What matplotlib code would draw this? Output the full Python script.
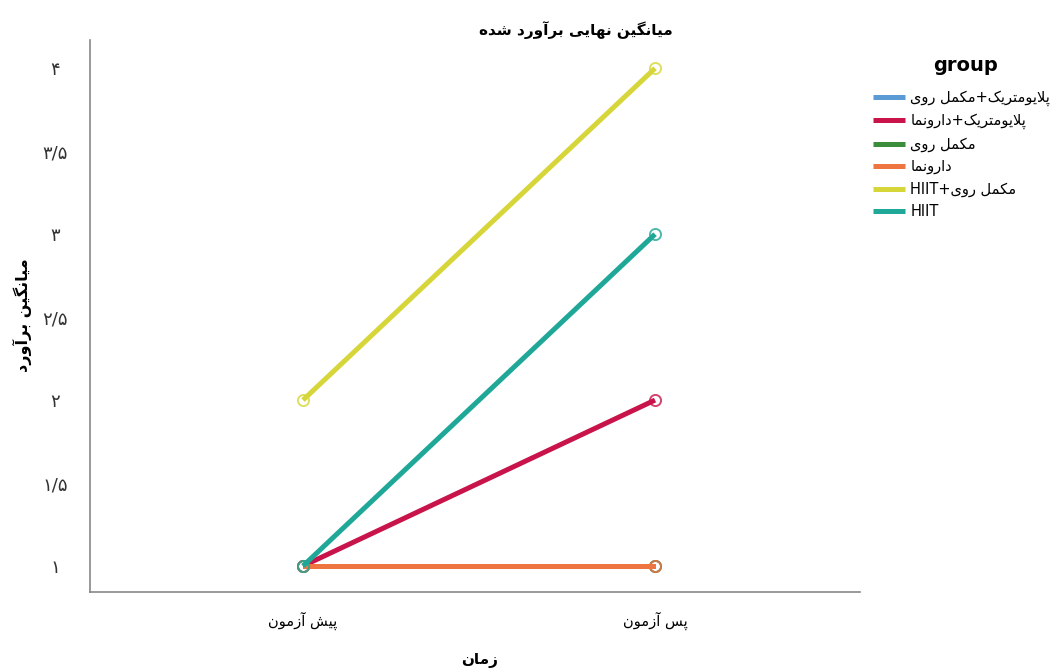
import re
import matplotlib
matplotlib.use("Agg")
import matplotlib.pyplot as plt

# -----------------------------
# Data (estimated marginal means)
# -----------------------------
groups = ["پلایومتریک+مکمل روی", "پلایومتریک+دارونما", "مکمل روی",
          "دارونما", "مکمل روی+HIIT", "HIIT"]
colors = ["#5b9bd5", "#c8144a", "#3b8c3b", "#ee7440", "#d6d63a", "#1fa898"]
times = ["پیش آزمون", "پس آزمون"]
pre = [1, 1, 1, 1, 2, 1]
post = [1, 2, 1, 1, 4, 3]
ytick_vals = [1, 1.5, 2, 2.5, 3, 3.5, 4]
ytick_labels = ["۱", "۱/۵", "۲", "۲/۵", "۳", "۳/۵", "۴"]

# -----------------------------
# Minimal Persian shaping (isolated, final, initial, medial)
# -----------------------------
FORMS = {
    'ا': ('\uFE8D', '\uFE8E', None, None),
    'آ': ('\uFE81', '\uFE82', None, None),
    'ب': ('\uFE8F', '\uFE90', '\uFE91', '\uFE92'),
    'ت': ('\uFE95', '\uFE96', '\uFE97', '\uFE98'),
    'د': ('\uFEA9', '\uFEAA', None, None),
    'ر': ('\uFEAD', '\uFEAE', None, None),
    'ز': ('\uFEAF', '\uFEB0', None, None),
    'س': ('\uFEB1', '\uFEB2', '\uFEB3', '\uFEB4'),
    'ش': ('\uFEB5', '\uFEB6', '\uFEB7', '\uFEB8'),
    'ل': ('\uFEDD', '\uFEDE', '\uFEDF', '\uFEE0'),
    'م': ('\uFEE1', '\uFEE2', '\uFEE3', '\uFEE4'),
    'ن': ('\uFEE5', '\uFEE6', '\uFEE7', '\uFEE8'),
    'ه': ('\uFEE9', '\uFEEA', '\uFEEB', '\uFEEC'),
    'و': ('\uFEED', '\uFEEE', None, None),
    'پ': ('\uFB56', '\uFB57', '\uFB58', '\uFB59'),
    'ک': ('\uFB8E', '\uFB8F', '\uFB90', '\uFB91'),
    'گ': ('\uFB92', '\uFB93', '\uFB94', '\uFB95'),
    'ی': ('\uFBFC', '\uFBFD', '\uFBFE', '\uFBFF'),
}


def shape(text):
    out = []
    i = 0
    while i < len(text):
        c = text[i]
        prev = text[i - 1] if i > 0 else None
        nxt = text[i + 1] if i + 1 < len(text) else None
        join_prev = prev in FORMS and FORMS[prev][2] is not None and c in FORMS
        if c == 'ل' and nxt == 'ا':
            out.append('\uFEFC' if join_prev else '\uFEFB')
            i += 2
            continue
        if c in FORMS:
            f = FORMS[c]
            join_next = f[2] is not None and nxt in FORMS
            if join_prev and join_next:
                out.append(f[3])
            elif join_prev:
                out.append(f[1])
            elif join_next:
                out.append(f[2])
            else:
                out.append(f[0])
        else:
            out.append(c)
        i += 1
    return ''.join(out)


def fa(text):
    # shape, lay out right-to-left, keep latin runs left-to-right
    vis = shape(text)[::-1]
    return re.sub(r'[A-Za-z0-9]+', lambda m: m.group(0)[::-1], vis)


plt.rcParams['font.family'] = ['DejaVu Sans']

fig = plt.figure(figsize=(10.59, 6.71), dpi=100)
ax = fig.add_axes([0.085, 0.1177, 0.727, 0.8223])

x = [0, 1]
for g, c, a, b in zip(groups, colors, pre, post):
    ax.plot(x, [a, b], color=c, lw=3.6, solid_capstyle='butt', label=fa(g))
    ax.plot(x, [a, b], 'o', color=c, ms=8, mfc='none', mew=1.4, alpha=0.8)

ax.set_xlim(-0.605, 1.582)
ax.set_ylim(0.843, 4.169)

ax.set_xticks(x)
ax.set_xticklabels([fa(t) for t in times], fontsize=10.5)
ax.set_yticks(ytick_vals)
ax.set_yticklabels(ytick_labels, fontsize=13, color='#333333', ha='center')
ax.tick_params(axis='x', length=0, pad=14)
ax.tick_params(axis='y', length=0, pad=25)

for side in ['top', 'right']:
    ax.spines[side].set_visible(False)
for side in ['left', 'bottom']:
    ax.spines[side].set_color('#888888')
    ax.spines[side].set_linewidth(1.2)

fig.text(0.544, 0.955, fa("میانگین نهایی برآورد شده"), ha='center', va='center',
         fontsize=11, fontweight='bold')
fig.text(0.021, 0.53, fa("میانگین برآورد"), ha='center', va='center',
         rotation=90, fontsize=11.5, fontweight='bold')
fig.text(0.453, 0.016, fa("زمان"), ha='center', va='center',
         fontsize=11, fontweight='bold')

# legend title drawn on its own so the gap above the entries matches
fig.text(0.912, 0.902, 'group', ha='center', va='center',
         fontsize=14, fontweight='bold')
leg = fig.legend(loc='upper left', bbox_to_anchor=(0.812, 0.886), frameon=False,
                 fontsize=10.5, handlelength=2.2, handletextpad=0.35,
                 labelspacing=0.5)

fig.savefig('out.png', dpi=100)
